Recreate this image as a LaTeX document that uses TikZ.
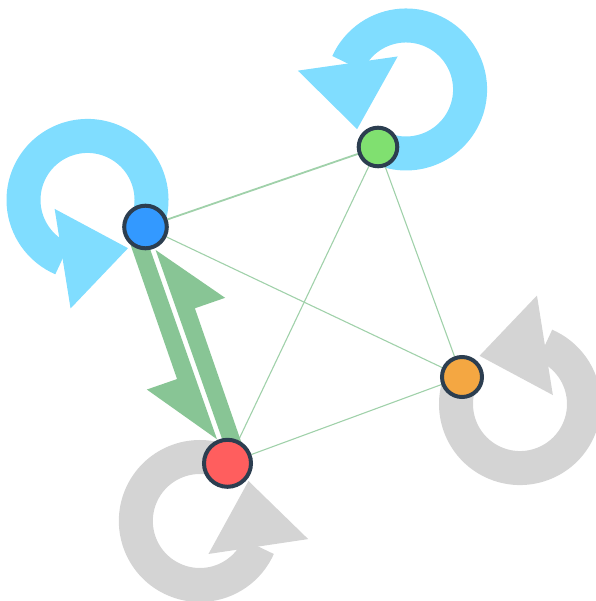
\documentclass[tikz,border=0pt]{standalone}
\usepackage{xcolor}
\usepackage{tikz}
\usetikzlibrary{backgrounds}
\definecolor{statebd}{HTML}{2C3E50}
\definecolor{sblue}{HTML}{3399FF}
\definecolor{sgreen}{HTML}{80E070}
\definecolor{sorange}{HTML}{F4A742}
\definecolor{sred}{HTML}{FF5E5E}
\definecolor{linkgreen}{HTML}{88C595}
\definecolor{loopblue}{HTML}{80DDFF}
\definecolor{loopgray}{HTML}{D4D4D4}
\tikzset{link/.style={draw=linkgreen!80,line width=1.1},
         bolt/.style={fill=linkgreen}}
\newcommand{\statenode}{\node[circle,draw=statebd,line width=4,inner sep=0]}
% self loop: node, direction of the ring, colour
\newcommand{\selfloop}[3]{%
  \begin{scope}[shift={(#1.center)},rotate=#2]
    \draw[#3,line width=34] (0,0) arc[start angle=180,end angle=452,radius=64];
    \fill[#3] (90,22) -- (33.5,105.5) -- (6.9,26.6) -- cycle;
  \end{scope}}

\begin{document}
\begin{tikzpicture}[x=1pt,y=1pt]
          \useasboundingbox (0,0) rectangle (595,601);
          \statenode[fill=sblue,minimum size=42.6] (blue) at (145.5,374) {}; %
          \statenode[fill=sgreen,minimum size=38.6] (green) at (378,454) {}; %
          \statenode[fill=sorange,minimum size=40] (orange) at (462,224) {};
          \statenode[fill=sred,minimum size=47] (red) at (227.5,137.7) {};
          \begin{scope}[on background layer]
          \selfloop{blue}{155}{loopblue}
          \selfloop{green}{64}{loopblue}
          \selfloop{orange}{-25}{loopgray}
          \selfloop{red}{-115.6}{loopgray}
          \draw[link,line width=1.8] (blue) -- (green);
          \draw[link] (blue) -- (orange);
          \draw[link] (green) -- (red);
          \draw[link] (green) -- (orange);
          \draw[link] (orange) -- (red);
          \begin{scope}[shift={(blue.center)},rotate=-70.87]
          \fill[bolt] (0,-3) -- (0,-20) -- (154,-20) -- (154,-52) -- (224,-2) -- cycle; % blue to red
          \fill[bolt] (250,3) -- (250,20) -- (93,20) -- (93,52) -- (25,2) -- cycle; % red to blue
          \end{scope}
          \end{scope}
        \end{tikzpicture}
\end{document}
